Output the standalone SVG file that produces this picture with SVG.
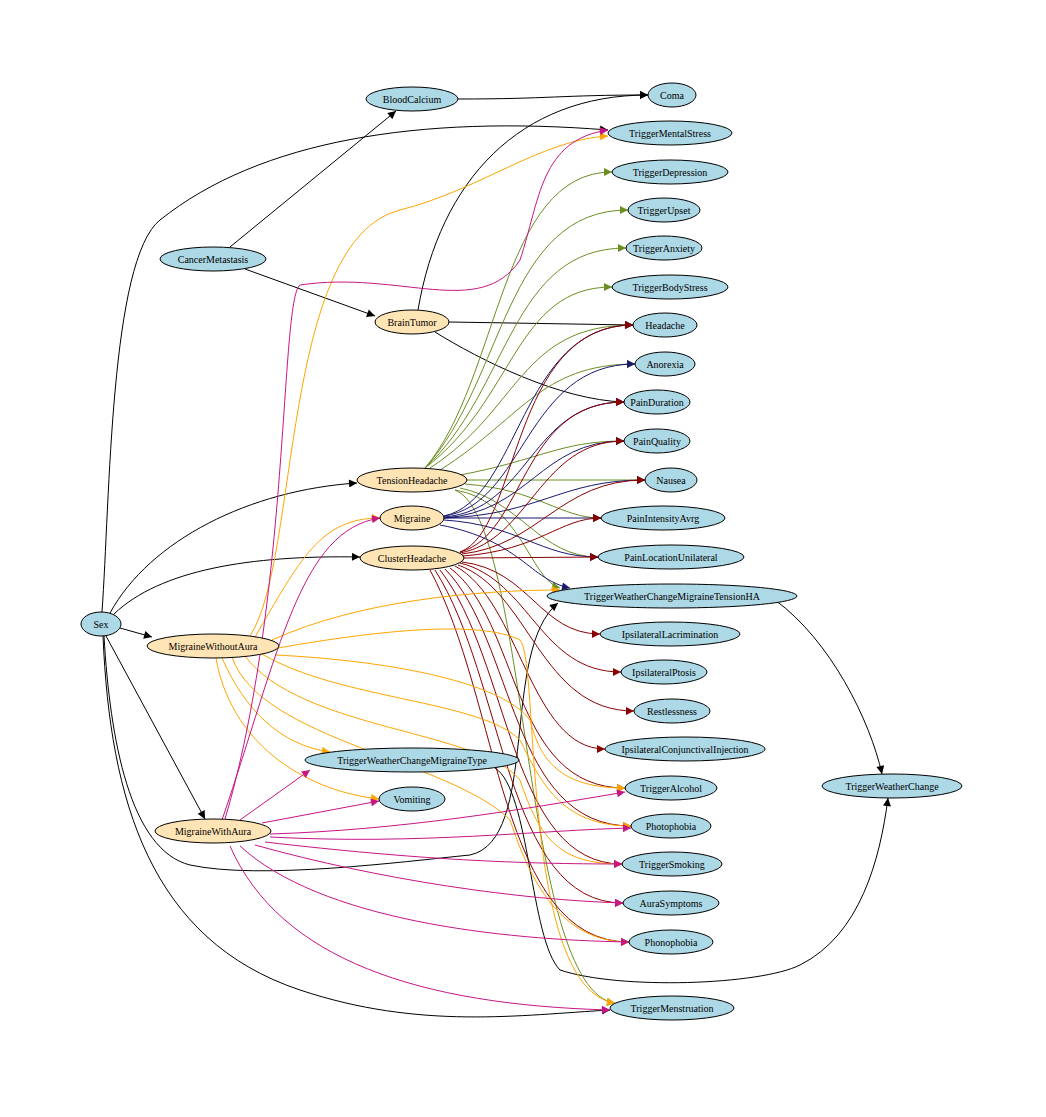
<svg xmlns="http://www.w3.org/2000/svg" width="1046" height="1117" viewBox="0 0 1046 1117">
<style>
.n ellipse{stroke:#000;stroke-width:1}
.b ellipse{fill:#add8e6}
.o ellipse{fill:#ffe4b5}
text{font-family:"Liberation Serif",serif;font-size:10px;text-anchor:middle;dominant-baseline:central}
#edges path{fill:none;stroke-width:1}
.k{stroke:#000;marker-end:url(#mk)}
.g{stroke:#6b8e23;marker-end:url(#mg)}
.v{stroke:#191970;marker-end:url(#mv)}
.r{stroke:#8b0000;marker-end:url(#mr)}
.y{stroke:#ffa500;marker-end:url(#my)}
.m{stroke:#c71585;marker-end:url(#mm)}
</style>
<defs>
<marker id="mk" viewBox="0 0 10 10" refX="10" refY="5" markerWidth="9" markerHeight="8" orient="auto" markerUnits="userSpaceOnUse"><path d="M0,0L10,5L0,10z" fill="#000"/></marker>
<marker id="mg" viewBox="0 0 10 10" refX="10" refY="5" markerWidth="9" markerHeight="8" orient="auto" markerUnits="userSpaceOnUse"><path d="M0,0L10,5L0,10z" fill="#6b8e23"/></marker>
<marker id="mv" viewBox="0 0 10 10" refX="10" refY="5" markerWidth="9" markerHeight="8" orient="auto" markerUnits="userSpaceOnUse"><path d="M0,0L10,5L0,10z" fill="#191970"/></marker>
<marker id="mr" viewBox="0 0 10 10" refX="10" refY="5" markerWidth="9" markerHeight="8" orient="auto" markerUnits="userSpaceOnUse"><path d="M0,0L10,5L0,10z" fill="#8b0000"/></marker>
<marker id="my" viewBox="0 0 10 10" refX="10" refY="5" markerWidth="9" markerHeight="8" orient="auto" markerUnits="userSpaceOnUse"><path d="M0,0L10,5L0,10z" fill="#ffa500"/></marker>
<marker id="mm" viewBox="0 0 10 10" refX="10" refY="5" markerWidth="9" markerHeight="8" orient="auto" markerUnits="userSpaceOnUse"><path d="M0,0L10,5L0,10z" fill="#c71585"/></marker>
</defs>
<rect width="1046" height="1117" fill="#fff"/>
<g id="edges">
<path class="k" d="M458,99 C550,99 560,95 648,95"/>
<path class="k" d="M230,247 L396,111"/>
<path class="k" d="M245,269 L375,316"/>
<path class="k" d="M418,310 C440,180 520,95 648,95"/>
<path class="k" d="M449,322 L633,325"/>
<path class="k" d="M435,332 C480,360 560,400 624,402"/>
<path class="k" d="M102,612 C110,500 110,260 160,220 C260,140 420,115 608,130"/>
<path class="k" d="M110,613 C150,540 250,490 357,483"/>
<path class="k" d="M114,614 C160,570 250,555 360,557"/>
<path class="k" d="M120,628 L152,637"/>
<path class="k" d="M106,636 L205,819"/>
<path class="k" d="M104,636 C110,740 130,850 190,865 C260,880 400,862 470,855 C540,840 500,650 558,603"/>
<path class="k" d="M103,636 C110,800 150,940 300,990 C420,1030 520,1015 610,1010"/>
<path class="k" d="M775,600 C830,640 870,720 882,774"/>
<path class="k" d="M495,768 C530,790 530,940 560,970 C620,990 760,985 800,965 C860,935 880,860 888,798"/>
<path class="g" d="M425,468 C500,380 500,172 612,172"/>
<path class="g" d="M425,468 C505,380 505,210 628,210"/>
<path class="g" d="M425,468 C510,390 510,248 626,248"/>
<path class="g" d="M425,468 C515,400 515,287 612,287"/>
<path class="g" d="M430,468 C520,410 520,325 633,325"/>
<path class="g" d="M440,470 C520,420 540,364 635,364"/>
<path class="g" d="M460,475 C540,460 560,441 624,441"/>
<path class="g" d="M467,480 L645,480"/>
<path class="g" d="M465,484 C540,490 560,518 601,518"/>
<path class="g" d="M460,488 C520,500 540,557 598,557"/>
<path class="g" d="M455,490 C520,500 530,580 560,588"/>
<path class="g" d="M455,490 C530,520 520,990 615,1003"/>
<path class="v" d="M444,516 C520,500 520,325 633,325"/>
<path class="v" d="M444,516 C525,505 525,364 635,364"/>
<path class="v" d="M444,517 C530,510 530,402 624,402"/>
<path class="v" d="M444,518 C530,512 540,441 624,441"/>
<path class="v" d="M444,518 C540,515 560,480 645,480"/>
<path class="v" d="M444,518 L601,518"/>
<path class="v" d="M444,520 C520,525 540,557 598,557"/>
<path class="v" d="M440,525 C520,540 530,580 570,588"/>
<path class="r" d="M460,552 C520,530 510,325 633,325"/>
<path class="r" d="M460,552 C525,535 520,402 624,402"/>
<path class="r" d="M460,553 C530,540 540,441 624,441"/>
<path class="r" d="M462,554 C540,545 560,480 645,480"/>
<path class="r" d="M463,556 C540,550 560,518 601,518"/>
<path class="r" d="M464,558 L598,557"/>
<path class="r" d="M462,562 C530,570 540,634 600,634"/>
<path class="r" d="M460,563 C530,580 540,672 621,672"/>
<path class="r" d="M458,565 C530,590 540,711 634,711"/>
<path class="r" d="M455,566 C520,600 530,749 605,749"/>
<path class="r" d="M450,568 C520,620 510,788 625,788"/>
<path class="r" d="M445,569 C515,640 510,826 631,826"/>
<path class="r" d="M440,570 C510,660 510,864 622,864"/>
<path class="r" d="M435,570 C505,680 505,903 623,903"/>
<path class="r" d="M430,570 C500,700 500,942 629,942"/>
<path class="y" d="M250,636 C300,560 280,240 400,210 C480,190 540,140 608,136"/>
<path class="y" d="M255,637 C300,560 320,518 380,518"/>
<path class="y" d="M272,640 C360,600 480,590 560,590"/>
<path class="y" d="M278,648 C380,630 480,620 520,640 C540,660 520,990 615,1003"/>
<path class="y" d="M275,655 C380,660 500,680 530,720 C540,760 560,788 625,788"/>
<path class="y" d="M262,654 C340,700 480,700 520,740 C540,780 560,826 631,826"/>
<path class="y" d="M245,656 C300,730 480,730 520,780 C540,840 560,864 622,864"/>
<path class="y" d="M232,657 C260,740 450,760 510,820 C530,880 560,942 629,942"/>
<path class="y" d="M222,658 C245,710 280,745 330,752"/>
<path class="y" d="M216,658 C230,740 300,790 379,799"/>
<path class="m" d="M225,819 C290,600 280,300 300,285 C400,270 480,320 520,260 C540,200 540,140 608,130"/>
<path class="m" d="M222,820 C280,650 300,530 380,518"/>
<path class="m" d="M240,820 L310,770"/>
<path class="m" d="M262,823 L379,801"/>
<path class="m" d="M270,834 C400,830 520,810 625,792"/>
<path class="m" d="M270,837 C420,845 540,830 631,828"/>
<path class="m" d="M265,842 C420,860 520,864 622,864"/>
<path class="m" d="M255,845 C380,880 520,900 623,903"/>
<path class="m" d="M240,846 C320,920 500,940 629,942"/>
<path class="m" d="M230,846 C280,960 420,1005 610,1010"/>
</g>
<g id="BloodCalcium" class="n b"><ellipse cx="412" cy="99" rx="46" ry="12"/><text x="412" y="99">BloodCalcium</text></g>
<g id="Coma" class="n b"><ellipse cx="672" cy="95" rx="24" ry="12"/><text x="672" y="95">Coma</text></g>
<g id="TriggerMentalStress" class="n b"><ellipse cx="670" cy="133" rx="62" ry="12"/><text x="670" y="133">TriggerMentalStress</text></g>
<g id="TriggerDepression" class="n b"><ellipse cx="670" cy="172" rx="58" ry="12"/><text x="670" y="172">TriggerDepression</text></g>
<g id="TriggerUpset" class="n b"><ellipse cx="664" cy="210" rx="36" ry="12"/><text x="664" y="210">TriggerUpset</text></g>
<g id="TriggerAnxiety" class="n b"><ellipse cx="664" cy="248" rx="38" ry="12"/><text x="664" y="248">TriggerAnxiety</text></g>
<g id="TriggerBodyStress" class="n b"><ellipse cx="670" cy="287" rx="58" ry="12"/><text x="670" y="287">TriggerBodyStress</text></g>
<g id="Headache" class="n b"><ellipse cx="665" cy="325" rx="32" ry="12"/><text x="665" y="325">Headache</text></g>
<g id="Anorexia" class="n b"><ellipse cx="665" cy="364" rx="30" ry="12"/><text x="665" y="364">Anorexia</text></g>
<g id="PainDuration" class="n b"><ellipse cx="657" cy="402" rx="33" ry="12"/><text x="657" y="402">PainDuration</text></g>
<g id="PainQuality" class="n b"><ellipse cx="657" cy="441" rx="33" ry="12"/><text x="657" y="441">PainQuality</text></g>
<g id="Nausea" class="n b"><ellipse cx="671" cy="480" rx="26" ry="12"/><text x="671" y="480">Nausea</text></g>
<g id="PainIntensityAvrg" class="n b"><ellipse cx="663" cy="518" rx="62" ry="12"/><text x="663" y="518">PainIntensityAvrg</text></g>
<g id="PainLocationUnilateral" class="n b"><ellipse cx="671" cy="557" rx="73" ry="12"/><text x="671" y="557">PainLocationUnilateral</text></g>
<g id="TriggerWeatherChangeMigraineTensionHA" class="n b"><ellipse cx="672" cy="596" rx="125" ry="12"/><text x="672" y="596">TriggerWeatherChangeMigraineTensionHA</text></g>
<g id="IpsilateralLacrimination" class="n b"><ellipse cx="670" cy="634" rx="70" ry="12"/><text x="670" y="634">IpsilateralLacrimination</text></g>
<g id="IpsilateralPtosis" class="n b"><ellipse cx="664" cy="672" rx="43" ry="12"/><text x="664" y="672">IpsilateralPtosis</text></g>
<g id="Restlessness" class="n b"><ellipse cx="672" cy="711" rx="38" ry="12"/><text x="672" y="711">Restlessness</text></g>
<g id="IpsilateralConjunctivalInjection" class="n b"><ellipse cx="685" cy="749" rx="80" ry="12"/><text x="685" y="749">IpsilateralConjunctivalInjection</text></g>
<g id="TriggerAlcohol" class="n b"><ellipse cx="671" cy="788" rx="46" ry="12"/><text x="671" y="788">TriggerAlcohol</text></g>
<g id="Photophobia" class="n b"><ellipse cx="671" cy="826" rx="40" ry="12"/><text x="671" y="826">Photophobia</text></g>
<g id="TriggerSmoking" class="n b"><ellipse cx="672" cy="864" rx="50" ry="12"/><text x="672" y="864">TriggerSmoking</text></g>
<g id="AuraSymptoms" class="n b"><ellipse cx="671" cy="903" rx="48" ry="12"/><text x="671" y="903">AuraSymptoms</text></g>
<g id="Phonophobia" class="n b"><ellipse cx="671" cy="942" rx="42" ry="12"/><text x="671" y="942">Phonophobia</text></g>
<g id="TriggerMenstruation" class="n b"><ellipse cx="672" cy="1008" rx="62" ry="12"/><text x="672" y="1008">TriggerMenstruation</text></g>
<g id="TriggerWeatherChange" class="n b"><ellipse cx="892" cy="786" rx="70" ry="12"/><text x="892" y="786">TriggerWeatherChange</text></g>
<g id="TriggerWeatherChangeMigraineType" class="n b"><ellipse cx="412" cy="760" rx="107" ry="12"/><text x="412" y="760">TriggerWeatherChangeMigraineType</text></g>
<g id="Vomiting" class="n b"><ellipse cx="412" cy="799" rx="33" ry="12"/><text x="412" y="799">Vomiting</text></g>
<g id="CancerMetastasis" class="n b"><ellipse cx="213" cy="259" rx="53" ry="12"/><text x="213" y="259">CancerMetastasis</text></g>
<g id="Sex" class="n b"><ellipse cx="101" cy="624" rx="20" ry="12"/><text x="101" y="624">Sex</text></g>
<g id="BrainTumor" class="n o"><ellipse cx="412" cy="322" rx="37" ry="12"/><text x="412" y="322">BrainTumor</text></g>
<g id="TensionHeadache" class="n o"><ellipse cx="412" cy="480" rx="55" ry="12"/><text x="412" y="480">TensionHeadache</text></g>
<g id="Migraine" class="n o"><ellipse cx="412" cy="518" rx="32" ry="12"/><text x="412" y="518">Migraine</text></g>
<g id="ClusterHeadache" class="n o"><ellipse cx="412" cy="558" rx="52" ry="12"/><text x="412" y="558">ClusterHeadache</text></g>
<g id="MigraineWithoutAura" class="n o"><ellipse cx="213" cy="646" rx="66" ry="12"/><text x="213" y="646">MigraineWithoutAura</text></g>
<g id="MigraineWithAura" class="n o"><ellipse cx="213" cy="831" rx="58" ry="12"/><text x="213" y="831">MigraineWithAura</text></g>
</svg>
